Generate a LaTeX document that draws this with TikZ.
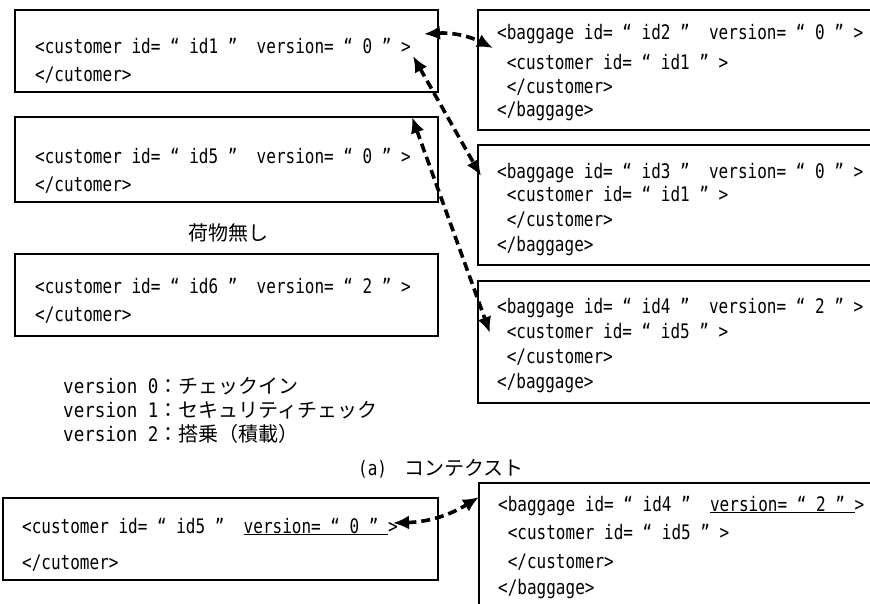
\documentclass[tikz,border=0pt]{standalone}
\usepackage{fontspec}
\newfontfamily\bxfont[FakeStretch=0.8]{DejaVu Sans Mono}
\newfontfamily\vxfont[FakeStretch=0.88]{DejaVu Sans Mono}
\newfontfamily\jpfont{Noto Sans CJK JP}
\usetikzlibrary{arrows.meta}
\tikzset{
  box/.style={draw, line width=1.6pt, inner sep=0pt, outer sep=0pt},
  txt/.style={anchor=base west, inner sep=0pt, font=\bxfont\fontsize{20}{24}\selectfont},
  vtxt/.style={anchor=base west, inner sep=0pt, font=\vxfont\fontsize{20}{24}\selectfont},
  jtxt/.style={inner sep=0pt, font=\jpfont\fontsize{20}{24}\selectfont},
  link/.style={line width=3.6pt, dash pattern=on 9pt off 5pt,
    {Latex[length=16pt,width=14pt]}-{Latex[length=16pt,width=14pt]}}
}
\begin{document}
\begin{tikzpicture}[x=1pt,y=-1pt]
\useasboundingbox (0,0) rectangle (870,603);
\clip (0,0) rectangle (870,603);
\fill[white] (0,0) rectangle (870,603);
% customer boxes
\node[box, minimum width=423pt, minimum height=82pt] (c1) at (226.5,51) {};
\node[box, minimum width=423pt, minimum height=85pt] (c5) at (226.5,159.5) {};
\node[box, minimum width=423pt, minimum height=82pt] (c6) at (226.5,295) {};
% baggage boxes
\node[box, minimum width=397pt, minimum height=120pt] (b2) at (676.5,70) {};
\node[box, minimum width=397pt, minimum height=120pt] (b3) at (676.5,205) {};
\node[box, minimum width=397pt, minimum height=122pt] (b4) at (676.5,342) {};
% bottom boxes
\node[box, minimum width=435pt, minimum height=82pt] (d1) at (220.5,539) {};
\node[box, minimum width=396pt, minimum height=132pt] (d2) at (677,549) {};

% texts
\node[txt] (c1a) at (35,53) {<customer~id=~“~id1~”~~version=~“~0~”~>};
\node[txt] (c1b) at (35,81) {</cutomer>};
\node[txt] (c5a) at (35,163) {<customer~id=~“~id5~”~~version=~“~0~”~>};
\node[txt] (c5b) at (35,191) {</cutomer>};
\node[jtxt] (nol) at (228,233) {荷物無し};
\node[txt] (c6a) at (35,293) {<customer~id=~“~id6~”~~version=~“~2~”~>};
\node[txt] (c6b) at (35,321) {</cutomer>};

\node[txt] (b2a) at (497,39) {<baggage~id=~“~id2~”~~version=~“~0~”~>};
\node[txt] (b2b) at (497,69) {~<customer~id=~“~id1~”~>};
\node[txt] (b2c) at (497,93) {~</customer>};
\node[txt] (b2d) at (497,116) {</baggage>};

\node[txt] (b3a) at (497,178) {<baggage~id=~“~id3~”~~version=~“~0~”~>};
\node[txt] (b3b) at (497,201) {~<customer~id=~“~id1~”~>};
\node[txt] (b3c) at (497,226) {~</customer>};
\node[txt] (b3d) at (497,251) {</baggage>};

\node[txt] (b4a) at (497,313) {<baggage~id=~“~id4~”~~version=~“~2~”~>};
\node[txt] (b4b) at (497,338) {~<customer~id=~“~id5~”~>};
\node[txt] (b4c) at (497,363) {~</customer>};
\node[txt] (b4d) at (497,388) {</baggage>};

\node[vtxt] (v0) at (63,393) {version~0{\jpfont ：チェックイン}};
\node[vtxt] (v1) at (63,417) {version~1{\jpfont ：セキュリティチェック}};
\node[vtxt] (v2) at (63,441) {version~2{\jpfont ：搭乗（積載）}};

\node[txt] (cap) at (358,475) {(a)\hspace{17pt}{\jpfont コンテクスト}};

\node[txt] (d1a) at (22,533) {<customer~id=~“~id5~”~~\underline{version=~“~0~”~}>};
\node[txt] (d1b) at (22,569) {</cutomer>};

\node[txt] (d2a) at (498,511) {<baggage~id=~“~id4~”~~\underline{version=~“~2~”~}>};
\node[txt] (d2b) at (498,539) {~<customer~id=~“~id5~”~>};
\node[txt] (d2c) at (498,568) {~</customer>};
\node[txt] (d2d) at (498,594) {</baggage>};

% connector ends
\coordinate (p1) at (424,34);
\coordinate (q1) at (493,48);
\coordinate (p2) at (413,56);
\coordinate (q2) at (481,176);
\coordinate (p3) at (412,117);
\coordinate (q3) at (490,333);
\coordinate (p4) at (393,523);
\coordinate (q4) at (479,497);

\draw[link] (p1) to[bend left=15] (q1);
\draw[link] (p2) -- (q2);
\draw[link] (p3) -- (q3);
\draw[link] (p4) to[bend right=15] (q4);
\end{tikzpicture}
\end{document}
